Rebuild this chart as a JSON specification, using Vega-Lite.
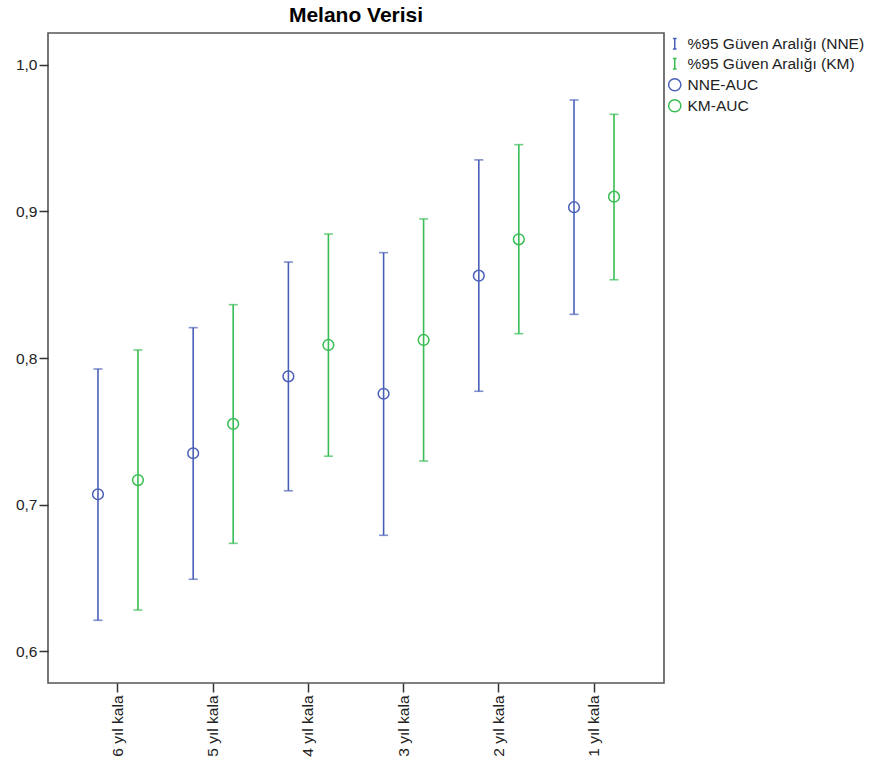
{
  "$schema": "https://vega.github.io/schema/vega-lite/v6.json",
  "autosize": "none",
  "width": 616,
  "height": 650,
  "padding": {"left": 48, "top": 33, "right": 218, "bottom": 86},
  "background": "white",
  "title": {"text": "Melano Verisi", "font": "Liberation Sans", "fontSize": 21, "fontWeight": "bold", "color": "#000000", "anchor": "middle", "offset": 7},
  "config": {
    "view": {"stroke": "#555555", "strokeWidth": 1.6},
    "axis": {"grid": false, "domain": false, "labelFont": "Liberation Sans", "labelFontSize": 15.5, "labelColor": "#222222", "tickColor": "#333333", "tickWidth": 1.5, "title": null},
    "legend": {"labelFont": "Liberation Sans", "labelFontSize": 15.5, "labelColor": "#222222", "labelLimit": 260}
  },
  "data": {"values": [
    {"cat": "6 yıl kala", "model": "NNE", "auc": 0.707, "lo": 0.621, "hi": 0.7925, "aucLabel": "NNE-AUC"},
    {"cat": "6 yıl kala", "model": "KM", "auc": 0.7167, "lo": 0.628, "hi": 0.8055, "aucLabel": "KM-AUC"},
    {"cat": "5 yıl kala", "model": "NNE", "auc": 0.735, "lo": 0.649, "hi": 0.8207, "aucLabel": "NNE-AUC"},
    {"cat": "5 yıl kala", "model": "KM", "auc": 0.755, "lo": 0.6735, "hi": 0.8364, "aucLabel": "KM-AUC"},
    {"cat": "4 yıl kala", "model": "NNE", "auc": 0.7875, "lo": 0.7094, "hi": 0.8655, "aucLabel": "NNE-AUC"},
    {"cat": "4 yıl kala", "model": "KM", "auc": 0.8089, "lo": 0.733, "hi": 0.8846, "aucLabel": "KM-AUC"},
    {"cat": "3 yıl kala", "model": "NNE", "auc": 0.7756, "lo": 0.679, "hi": 0.8719, "aucLabel": "NNE-AUC"},
    {"cat": "3 yıl kala", "model": "KM", "auc": 0.8123, "lo": 0.7297, "hi": 0.8949, "aucLabel": "KM-AUC"},
    {"cat": "2 yıl kala", "model": "NNE", "auc": 0.8562, "lo": 0.7773, "hi": 0.9352, "aucLabel": "NNE-AUC"},
    {"cat": "2 yıl kala", "model": "KM", "auc": 0.881, "lo": 0.8166, "hi": 0.9456, "aucLabel": "KM-AUC"},
    {"cat": "1 yıl kala", "model": "NNE", "auc": 0.9029, "lo": 0.8298, "hi": 0.9761, "aucLabel": "NNE-AUC"},
    {"cat": "1 yıl kala", "model": "KM", "auc": 0.9101, "lo": 0.8534, "hi": 0.9663, "aucLabel": "KM-AUC"}
  ]},
  "encoding": {
    "x": {"field": "cat", "type": "nominal", "sort": ["6 yıl kala", "5 yıl kala", "4 yıl kala", "3 yıl kala", "2 yıl kala", "1 yıl kala"],
      "scale": {"type": "band", "paddingInner": 0, "paddingOuter": 0.235},
      "axis": {"labelAngle": -90, "tickSize": 9, "labelPadding": 3}},
    "xOffset": {"field": "model", "type": "nominal", "sort": ["NNE", "KM"], "scale": {"paddingInner": 0, "paddingOuter": 0.19}}
  },
  "layer": [
    {
      "mark": {"type": "rule", "strokeWidth": 1.6},
      "encoding": {
        "y": {"field": "lo", "type": "quantitative", "scale": {"domain": [0.5782, 1.0218], "nice": false, "zero": false},
          "axis": {"values": [0.6, 0.7, 0.8, 0.9, 1.0], "labelExpr": "replace(format(datum.value, '.1f'), '.', ',')", "tickSize": 9, "labelPadding": 2}},
        "y2": {"field": "hi"},
        "stroke": {"field": "model", "type": "nominal", "scale": {"domain": ["NNE", "KM"], "range": ["#4a60b8", "#38bd52"]}, "legend": null}
      }
    },
    {
      "mark": {"type": "tick", "size": 9, "thickness": 1.6},
      "encoding": {
        "y": {"field": "lo", "type": "quantitative"},
        "fill": {"field": "model", "type": "nominal", "scale": {"domain": ["NNE", "KM"], "range": ["#4a60b8", "#38bd52"]}, "legend": null}
      }
    },
    {
      "mark": {"type": "tick", "size": 9, "thickness": 1.6},
      "encoding": {
        "y": {"field": "hi", "type": "quantitative"},
        "fill": {"field": "model", "type": "nominal", "legend": null}
      }
    },
    {
      "mark": {"type": "point", "filled": false, "size": 115, "strokeWidth": 1.5, "opacity": 1},
      "encoding": {
        "y": {"field": "auc", "type": "quantitative"},
        "color": {"field": "aucLabel", "type": "nominal",
          "scale": {"domain": ["%95 Güven Aralığı (NNE)", "%95 Güven Aralığı (KM)", "NNE-AUC", "KM-AUC"], "range": ["#4a60b8", "#38bd52", "#4a60b8", "#38bd52"]},
          "legend": {"title": null, "orient": "none", "legendX": 619, "legendY": 3, "symbolSize": 150, "symbolStrokeWidth": 1.5, "rowPadding": 2, "labelOffset": 5, "padding": 0, "labelLimit": 260}},
        "shape": {"field": "aucLabel", "type": "nominal",
          "scale": {"domain": ["%95 Güven Aralığı (NNE)", "%95 Güven Aralığı (KM)", "NNE-AUC", "KM-AUC"], "range": ["M0,-0.85L0,0.85M-0.3,-0.85L0.3,-0.85M-0.3,0.85L0.3,0.85", "M0,-0.85L0,0.85M-0.3,-0.85L0.3,-0.85M-0.3,0.85L0.3,0.85", "circle", "circle"]},
          "legend": {"title": null, "orient": "none", "legendX": 619, "legendY": 3, "symbolSize": 150, "symbolStrokeWidth": 1.5, "rowPadding": 2, "labelOffset": 5, "padding": 0, "labelLimit": 260}}
      }
    }
  ]
}
